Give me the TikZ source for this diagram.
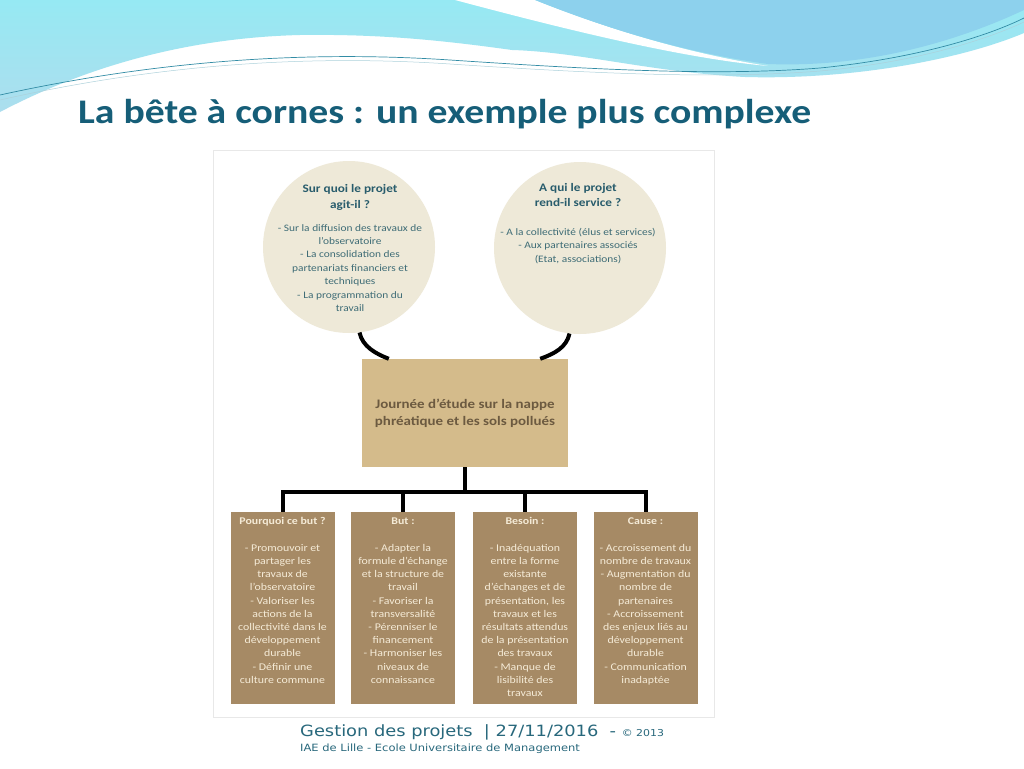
\documentclass[tikz,border=0pt]{standalone}
\usepackage{fontspec}
\setmainfont{Carlito}[FakeStretch=1.15]
\newfontfamily\footfont{DejaVu Sans}[FakeStretch=1.15]
\usetikzlibrary{calc}
\definecolor{titlecol}{RGB}{22,94,120}
\definecolor{footcol}{RGB}{40,104,124}
\definecolor{circfill}{RGB}{238,233,216}
\definecolor{mainfill}{RGB}{212,187,139}
\definecolor{maintext}{RGB}{108,90,64}
\definecolor{leaffill}{RGB}{166,138,101}
\definecolor{leaftext}{RGB}{245,235,215}
\definecolor{circhead}{RGB}{40,92,108}
\definecolor{circbody}{RGB}{62,108,118}
\definecolor{cyantop}{RGB}{150,233,243}
\definecolor{cyanbot}{RGB}{172,222,238}
\definecolor{bluetr}{RGB}{141,209,237}
\definecolor{thinline}{RGB}{50,140,165}
\tikzset{
  circ/.style={circle, fill=circfill, minimum size=172pt, inner sep=0pt},
  mainbox/.style={rectangle, fill=mainfill, minimum width=206pt, minimum height=108pt, inner sep=0pt,
    align=center, text=maintext, font=\bfseries\fontsize{13}{17}\selectfont},
  leaf/.style={rectangle, fill=leaffill, minimum width=104pt, minimum height=192pt, inner sep=0pt, anchor=north},
  leafhead/.style={anchor=base, inner sep=0pt, text=leaftext, font=\bfseries\fontsize{10.3}{13.2}\selectfont},
  leafbody/.style={anchor=north, inner sep=0pt, align=center, text=leaftext, font=\fontsize{10.3}{13.2}\selectfont},
  circhd/.style={anchor=north, inner sep=0pt, align=center, text=circhead, font=\bfseries\fontsize{11.5}{15.5}\selectfont},
  circbd/.style={anchor=north, inner sep=0pt, align=center, text=circbody, font=\fontsize{9.9}{13.4}\selectfont},
  conn/.style={line width=4pt, draw=black},
}
\begin{document}
\begin{tikzpicture}[x=1pt,y=-1pt]
\useasboundingbox (0,0) rectangle (1024,768);
\fill[white] (0,0) rectangle (1024,768);
% top decoration
\shade[top color=cyantop, bottom color=cyanbot] (0,0) -- (1024,0) -- (1024,33)
  .. controls (960,60) and (850,80) .. (745,77)
  .. controls (650,72) and (580,52) .. (512,50)
  .. controls (440,40) and (380,34) .. (300,35)
  .. controls (180,38) and (80,70) .. (0,112) -- cycle;
\fill[white] (455,0) .. controls (560,28) and (680,58) .. (768,66)
  .. controls (680,52) and (600,26) .. (535,0) -- cycle;
\fill[bluetr] (535,0) .. controls (600,26) and (680,52) .. (768,64)
  .. controls (870,68) and (960,40) .. (1024,10) -- (1024,0) -- cycle;
\draw[thinline, line width=0.7pt] (0,95) .. controls (150,62) and (300,50) .. (450,60)
  .. controls (600,70) and (720,76) .. (820,68) .. controls (920,58) and (990,35) .. (1024,18);
\draw[white!60!thinline, line width=0.5pt] (0,100) .. controls (150,66) and (300,54) .. (450,64)
  .. controls (600,74) and (720,79) .. (820,71) .. controls (920,62) and (990,38) .. (1024,22);
% title
\node[anchor=base west, inner sep=0pt, text=titlecol, font=\bfseries\fontsize{34.5}{38}\selectfont] (title) at (78,123) {La bête à cornes : un exemple plus complexe};
% panel
\filldraw[fill=white, draw=black!9, line width=0.8pt] (213,150) rectangle (714,717);
% circles
\node[circ] (c1) at (349,247) {};
\node[circ] (c2) at (580,248) {};
\node[circhd] (c1h) at (350,181.5) {\strut Sur quoi le projet\\agit-il ?};
\node[circbd] (c1b) at (350,221.6) {\strut - Sur la diffusion des travaux de\\l'observatoire\\- La consolidation des\\partenariats financiers et\\techniques\\- La programmation du\\travail};
\node[circhd] (c2h) at (578,180) {\strut A qui le projet\\rend-il service ?};
\node[circbd] (c2b) at (578,226) {\strut - A la collectivité (élus et services)\\- Aux partenaires associés\\(Etat, associations)};
% main box
\node[mainbox] (main) at (465,413) {Journée d'étude sur la nappe\\phréatique et les sols pollués};
% horns
\draw[conn] (c1.-83) .. controls ($(c1.-83)+(3,14)$) and ($(main.north west)+(14,-5)$) .. ($(main.north west)+(27,0)$);
\draw[conn] (c2.-97) .. controls ($(c2.-97)+(-3,14)$) and ($(main.north east)+(-14,-5)$) .. ($(main.north east)+(-28,0)$);
% leaves
\node[leaf] (l1) at (282.5,512) {};
\node[leaf] (l2) at (403,512) {};
\node[leaf] (l3) at (525,512) {};
\node[leaf] (l4) at (645.5,512) {};
\coordinate (j) at (465,492);
\draw[conn] (main.south) -- (j);
\draw[conn, line join=miter] (l1.north) |- (j) -| (l4.north);
\draw[conn] (l2.north) -- (l2.north |- j);
\draw[conn] (l3.north) -- (l3.north |- j);
% leaf texts
\node[leafhead] (l1h) at (282.5,524) {Pourquoi ce but ?};
\node[leafhead] (l2h) at (403,524) {But :};
\node[leafhead] (l3h) at (525,524) {Besoin :};
\node[leafhead] (l4h) at (645.5,524) {Cause :};
\node[leafbody] (l1b) at (282.5,541.8) {\strut - Promouvoir et\\partager les\\travaux de\\l'observatoire\\- Valoriser les\\actions de la\\collectivité dans le\\développement\\durable\\- Définir une\\culture commune};
\node[leafbody] (l2b) at (403,541.8) {\strut - Adapter la\\formule d'échange\\et la structure de\\travail\\- Favoriser la\\transversalité\\- Pérenniser le\\financement\\- Harmoniser les\\niveaux de\\connaissance};
\node[leafbody] (l3b) at (525,541.8) {\strut - Inadéquation\\entre la forme\\existante\\d'échanges et de\\présentation, les\\travaux et les\\résultats attendus\\de la présentation\\des travaux\\- Manque de\\lisibilité des\\travaux};
\node[leafbody] (l4b) at (645.5,541.8) {\strut - Accroissement du\\nombre de travaux\\- Augmentation du\\nombre de\\partenaires\\- Accroissement\\des enjeux liés au\\développement\\durable\\- Communication\\inadaptée};
% footer
\node[anchor=base west, inner sep=0pt, text=footcol, font=\footfont\fontsize{15.5}{18}\selectfont] (f1) at (300,736) {Gestion des projets~~| 27/11/2016~~- {\fontsize{9.5}{12}\selectfont © 2013}};
\node[anchor=base west, inner sep=0pt, text=footcol, font=\footfont\fontsize{10}{11}\selectfont] (f2) at (300,751) {IAE de Lille - Ecole Universitaire de Management};
\end{tikzpicture}
\end{document}
